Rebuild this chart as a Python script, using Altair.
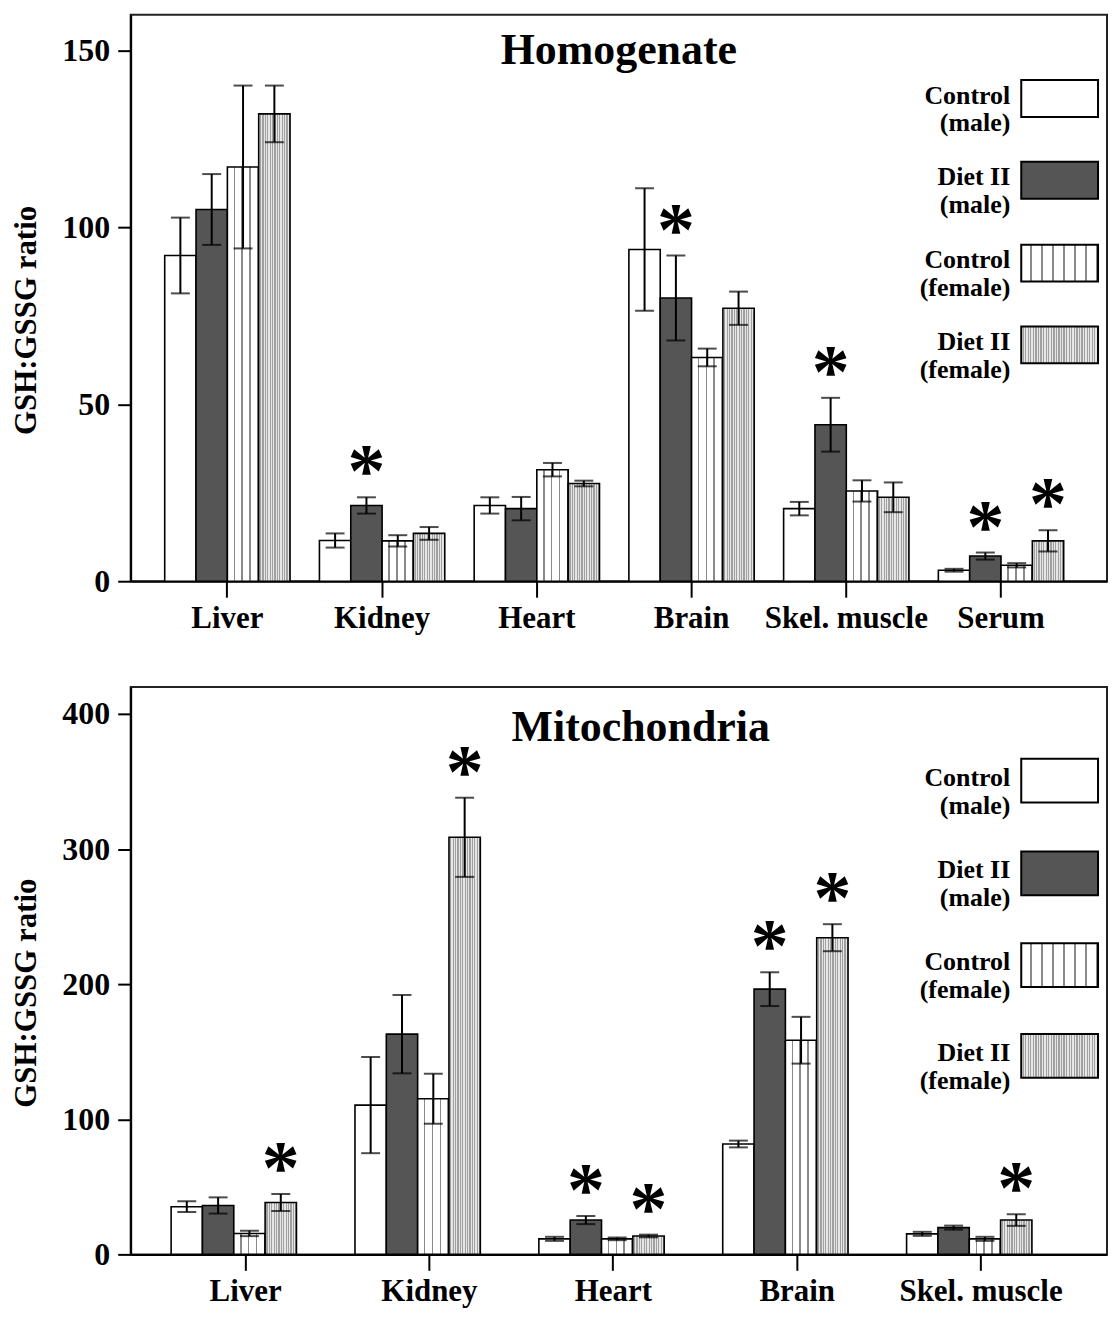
import altair as alt
import pandas as pd

FONT = "Liberation Serif"

series = ["Control (male)", "Diet II (male)", "Control (female)", "Diet II (female)"]
legend_labels = ["Control\n(male)", "Diet II\n(male)", "Control\n(female)", "Diet II\n(female)"]

# ---------------- Homogenate ----------------
hom_tissues = ["Liver", "Kidney", "Heart", "Brain", "Skel. muscle", "Serum"]
hom_cm = [92, 11.5, 21.4, 93.7, 20.5, 3.1]
hom_cm_err = [10.7, 2.0, 2.3, 17.3, 1.9, 0.4]
hom_dm = [105, 21.4, 20.5, 80, 44.2, 7.1]
hom_dm_err = [10, 2.3, 3.3, 12, 7.6, 1.0]
hom_cf = [117, 11.4, 31.5, 63.2, 25.5, 4.5]
hom_cf_err = [23, 1.6, 1.9, 2.5, 3.0, 0.6]
hom_df = [132, 13.5, 27.6, 77.1, 23.7, 11.4]
hom_df_err = [8, 1.8, 0.8, 4.7, 4.2, 3.0]
hom_stars = [("Kidney", "Diet II (male)"), ("Brain", "Diet II (male)"),
             ("Skel. muscle", "Diet II (male)"), ("Serum", "Diet II (male)"),
             ("Serum", "Diet II (female)")]

# ---------------- Mitochondria ----------------
mit_tissues = ["Liver", "Kidney", "Heart", "Brain", "Skel. muscle"]
mit_cm = [35.3, 110.5, 11.5, 81.7, 15.2]
mit_cm_err = [4, 35.6, 1.5, 2.5, 1.5]
mit_dm = [36.2, 163, 25.4, 196.3, 19.8]
mit_dm_err = [6, 29, 3, 12.5, 1.5]
mit_cf = [15.5, 115.2, 11.5, 158.5, 11.5]
mit_cf_err = [2, 18.5, 1, 17.3, 1.5]
mit_df = [38.4, 308.7, 13.6, 234.4, 25.4]
mit_df_err = [6.3, 29.3, 1, 10, 4.3]
mit_stars = [("Liver", "Diet II (female)"), ("Kidney", "Diet II (female)"),
             ("Heart", "Diet II (male)"), ("Heart", "Diet II (female)"),
             ("Brain", "Diet II (male)"), ("Brain", "Diet II (female)"),
             ("Skel. muscle", "Diet II (female)")]

titles = ["Homogenate", "Mitochondria"]
y_title = "GSH:GSSG ratio"

W = 979


def build_df(tissues, vals, errs, stars):
    rows = []
    for s, v, e in zip(series, vals, errs):
        for t, vv, ee in zip(tissues, v, e):
            rows.append({"tissue": t, "series": s, "value": vv,
                         "lo": max(vv - ee, 0), "hi": vv + ee,
                         "star": 1 if (t, s) in stars else 0})
    return pd.DataFrame(rows)


def stripes(n, c_bg, c_line, duty):
    stops = []
    for i in range(n):
        a = i / n
        b = a + (1 - duty) / n
        c = (i + 1) / n
        stops += [{"offset": a, "color": c_bg}, {"offset": b, "color": c_bg},
                  {"offset": b, "color": c_line}, {"offset": c, "color": c_line}]
    return {"gradient": "linear", "x1": 0, "y1": 0, "x2": 1, "y2": 0, "stops": stops}


def fills(is_legend):
    return [
        "white",
        "#555555",
        stripes(7 if is_legend else 4, "white", "#8a8a8a", 0.16 if is_legend else 0.2),
        stripes(30 if is_legend else 13, "#e6e6e6", "#a0a0a0", 0.5),
    ]


def axis_font():
    return dict(labelFont=FONT, titleFont=FONT, labelFontWeight="bold", titleFontWeight="bold",
                labelColor="black", titleColor="black", domainColor="black", tickColor="black",
                grid=False)


def panel(df, tissues, ymax, yticks, title, title_xy, sw_rows, sw_h, H):
    xenc = alt.X("tissue:N", sort=tissues,
                 scale=alt.Scale(paddingInner=0.19, paddingOuter=0.25, align=0.44),
                 axis=alt.Axis(title=None, labelAngle=0, tickSize=16, labelPadding=6,
                               labelFontSize=31, domainWidth=2, tickWidth=2, **axis_font()))
    xoff = alt.XOffset("series:N", sort=series, scale=alt.Scale(domain=series, paddingInner=0, paddingOuter=0))
    yscale = alt.Scale(domain=[0, ymax], nice=False)
    yaxis = alt.Axis(values=yticks, title=y_title, tickSize=13, labelPadding=8,
                     labelFontSize=32, titleFontSize=31, titlePadding=19,
                     domainWidth=2, tickWidth=2, titleY=H / 2 + 22, **axis_font())

    base = alt.Chart(df)
    layers = []
    for s, f in zip(series, fills(False)):
        layers.append(base.transform_filter(alt.datum.series == s).mark_bar(
            fill=f, stroke="black", strokeWidth=1.6).encode(
            x=xenc, xOffset=xoff, y=alt.Y("value:Q", scale=yscale, axis=yaxis)))
    layers.append(base.mark_rule(color="black", strokeWidth=2).encode(
        x=xenc, xOffset=xoff, y=alt.Y("lo:Q", scale=yscale, axis=yaxis), y2="hi:Q"))
    for fld in ["lo", "hi"]:
        layers.append(base.mark_tick(color="black", size=19, thickness=2).encode(
            x=xenc, xOffset=xoff, y=alt.Y(f"{fld}:Q", scale=yscale, axis=yaxis)))
    layers.append(base.transform_filter(alt.datum.star == 1).mark_text(
        text="*", font=FONT, fontWeight="bold", fontSize=76, baseline="middle", dy=-24,
        color="black").encode(
        x=xenc, xOffset=xoff, y=alt.Y("hi:Q", scale=yscale, axis=yaxis)))

    tdf = pd.DataFrame({"t": [title]})
    layers.append(alt.Chart(tdf).mark_text(font=FONT, fontWeight="bold", fontSize=44,
                                           baseline="middle", align="center", color="black").encode(
        text="t:N", x=alt.value(title_xy[0]), y=alt.value(title_xy[1])))

    ldf = pd.DataFrame({"series": series, "label": legend_labels})
    sw_x = (W - 86, W - 9)
    lab_x = W - 97
    for s, f, yc in zip(series, fills(True), sw_rows):
        sub = alt.Chart(ldf).transform_filter(alt.datum.series == s)
        layers.append(sub.mark_rect(fill=f, stroke="black", strokeWidth=2).encode(
            x=alt.value(sw_x[0]), x2=alt.value(sw_x[1]),
            y=alt.value(yc - sw_h / 2), y2=alt.value(yc + sw_h / 2)))
        layers.append(sub.mark_text(font=FONT, fontWeight="bold", fontSize=26, lineHeight=28,
                                    lineBreak="\n", align="right", baseline="middle",
                                    color="black").encode(
            text="label:N", x=alt.value(lab_x), y=alt.value(yc - 3)))

    return alt.layer(*layers).properties(width=W, height=H)


hom = build_df(hom_tissues, [hom_cm, hom_dm, hom_cf, hom_df],
               [hom_cm_err, hom_dm_err, hom_cf_err, hom_df_err], hom_stars)
mit = build_df(mit_tissues, [mit_cm, mit_dm, mit_cf, mit_df],
               [mit_cm_err, mit_dm_err, mit_cf_err, mit_df_err], mit_stars)

top = panel(hom, hom_tissues, 160, [0, 50, 100, 150], titles[0], (W / 2, 36),
            [84, 166, 249, 331], 37, 568)
bottom = panel(mit, mit_tissues, 420, [0, 100, 200, 300, 400], titles[1], (W / 2 + 22, 41),
               [94, 187, 279, 370], 44, 569)

chart = alt.vconcat(top, bottom, spacing=52).properties(
    padding={"left": 2, "right": 2, "top": 4, "bottom": 2}
).configure(background="white").configure_view(
    stroke="#222222", strokeWidth=2
)

chart.save("out.html", embed_options={"renderer": "svg", "actions": False})
